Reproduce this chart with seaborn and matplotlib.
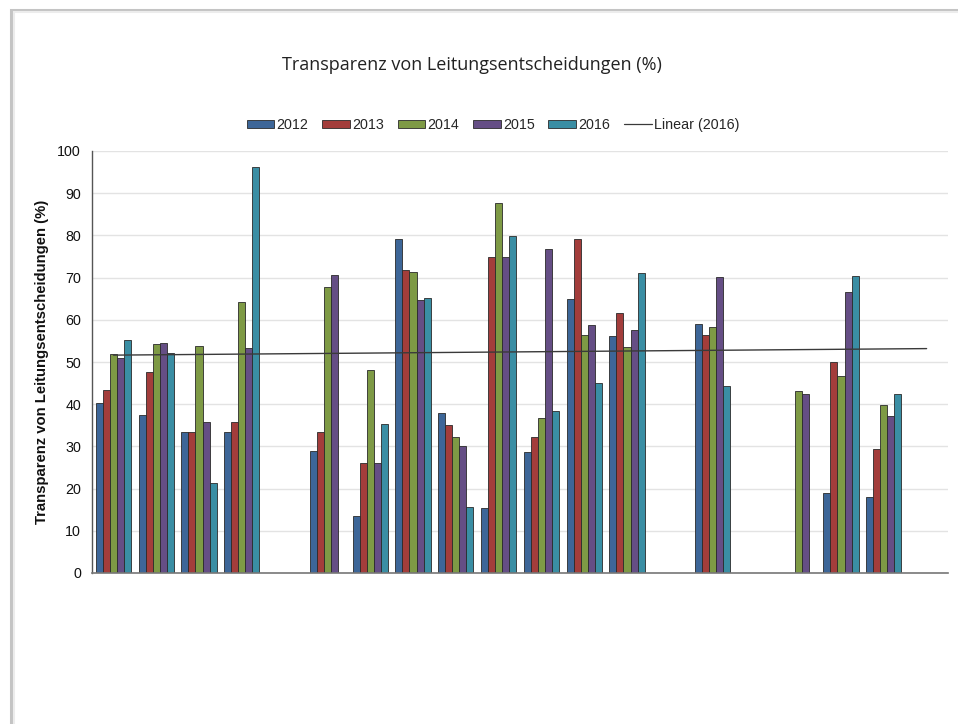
import numpy as np
import pandas as pd
import matplotlib
matplotlib.use("Agg")
import matplotlib.pyplot as plt
from matplotlib.patches import Patch, Rectangle
from matplotlib.lines import Line2D
import seaborn as sns

# ---- data -------------------------------------------------------------
categories = [str(i) for i in range(1, 21)]
years = ["2012", "2013", "2014", "2015", "2016"]
nan = np.nan
v2012 = [40.3, 37.4, 33.3, 33.3, nan, 29.0, 13.6, 79.2, 37.8, 15.3,
         28.7, 64.9, 56.1, nan, 59.1, nan, nan, 18.9, 18.0, nan]
v2013 = [43.3, 47.6, 33.3, 35.7, nan, 33.3, 26.0, 71.8, 35.0, 74.8,
         32.2, 79.2, 61.7, nan, 56.5, nan, nan, 49.9, 29.4, nan]
v2014 = [52.0, 54.2, 53.8, 64.1, nan, 67.8, 48.2, 71.3, 32.2, 87.6,
         36.8, 56.5, 53.5, nan, 58.3, nan, 43.1, 46.7, 39.9, nan]
v2015 = [51.0, 54.6, 35.7, 53.4, nan, 70.7, 26.0, 64.7, 30.0, 74.8,
         76.8, 58.7, 57.6, nan, 70.1, nan, 42.4, 66.7, 37.1, nan]
v2016 = [55.1, 52.1, 21.4, 96.2, nan, nan, 35.4, 65.1, 15.6, 79.9,
         38.4, 45.0, 71.1, nan, 44.4, nan, nan, 70.3, 42.4, nan]
series = {"2012": v2012, "2013": v2013, "2014": v2014, "2015": v2015, "2016": v2016}
colors = ["#3D6698", "#A33D3B", "#7E9A45", "#654E85", "#3A8EA4"]

title = "Transparenz von Leitungsentscheidungen (%)"
ylabel = "Transparenz von Leitungsentscheidungen (%)"
trend_label = "Linear (2016)"

rows = []
for y in years:
    for c, v in zip(categories, series[y]):
        rows.append({"cat": c, "year": y, "val": v})
df = pd.DataFrame(rows)

# ---- figure -----------------------------------------------------------
sns.set_theme(style="white")
plt.rcParams["font.family"] = ["Liberation Sans", "DejaVu Sans"]

fig = plt.figure(figsize=(9.58, 7.24), dpi=100)
fig.patch.set_facecolor("white")

# page frame
fig.add_artist(Rectangle((11 / 958, -0.05), 1.2, (724 - 10) / 724 + 0.05,
                         transform=fig.transFigure, fill=False,
                         edgecolor="#c4c4c4", lw=2.2, zorder=0))
fig.add_artist(Rectangle((13.5 / 958, -0.05), 1.2, (724 - 12) / 724 + 0.05,
                         transform=fig.transFigure, fill=False,
                         edgecolor="#ececec", lw=1.5, zorder=0))

ax = fig.add_axes([92 / 958, (724 - 573) / 724, 856 / 958, 422 / 724])

sns.barplot(data=df, x="cat", y="val", hue="year", order=categories,
            hue_order=years, palette=colors, width=0.82, ax=ax,
            edgecolor="#2a2a2a", linewidth=0.6, saturation=1, legend=False,
            errorbar=None)

# linear trend for 2016
y16 = np.array(v2016, dtype=float)
xs = np.arange(len(categories))
m = ~np.isnan(y16)
slope, icpt = np.polyfit(xs[m] + 1, y16[m], 1)
xl = np.array([0, len(categories) - 1])
ax.plot(xl, slope * (xl + 1) + icpt, color="#3a3a3a", lw=1.0, zorder=5)

ax.set_xlim(-0.5, len(categories) - 0.5)
ax.set_ylim(0, 100)
ax.set_yticks(np.arange(0, 101, 10))
ax.set_xticks([])
ax.set_xlabel("")
ax.set_ylabel(ylabel, fontsize=10.7, fontweight="bold", labelpad=6, color="#111111")
ax.tick_params(axis="y", labelsize=10.3, length=0, pad=8, colors="#111111")
ax.grid(axis="y", color="#e3e3e3", lw=1)
ax.set_axisbelow(True)
for s in ["top", "right"]:
    ax.spines[s].set_visible(False)
ax.spines["left"].set_color("#555555")
ax.spines["bottom"].set_color("#777777")
ax.spines["left"].set_linewidth(1)
ax.spines["bottom"].set_linewidth(1.2)

fig.text(472 / 958, 1 - 65 / 724, title, ha="center", va="center",
         fontsize=13, family=["Open Sans", "DejaVu Sans"], color="#222222")

handles = [Patch(facecolor=c, edgecolor="#2a2a2a", lw=0.6) for c in colors]
handles.append(Line2D([0], [0], color="#3a3a3a", lw=0.9))
labels = years + [trend_label]
fig.legend(handles, labels, loc="center", bbox_to_anchor=(493 / 958, 1 - 125 / 724),
           ncol=6, frameon=False, fontsize=10.3, handlelength=1.95, handleheight=0.55,
           handletextpad=0.15, columnspacing=0.95)

fig.savefig("out.png", dpi=100, facecolor="white")
